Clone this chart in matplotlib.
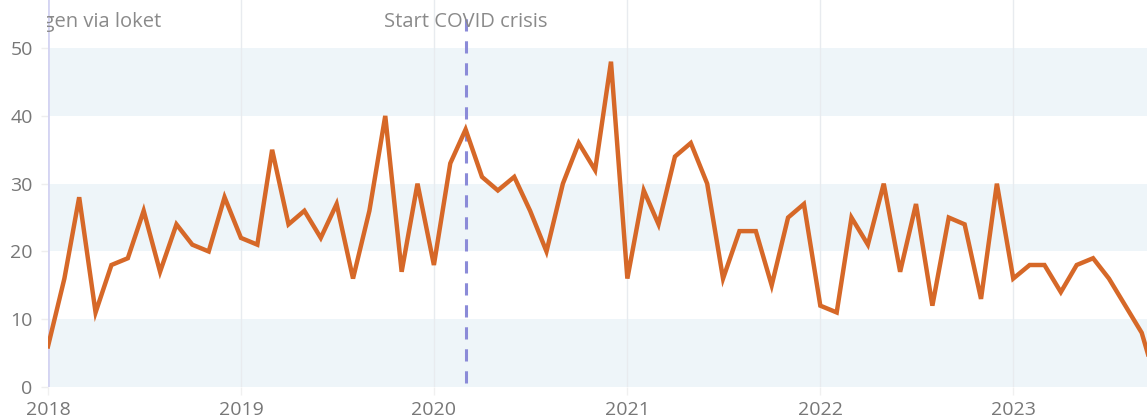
import numpy as np
import pandas as pd
import matplotlib
matplotlib.use("Agg")
import matplotlib.pyplot as plt
from matplotlib.patches import Rectangle

plt.rcParams['font.family'] = ['Open Sans', 'DejaVu Sans']

# monthly counts, Jan 2018 - Oct 2023
months = pd.date_range("2018-01-01", "2023-10-01", freq="MS")
counts = [
    6, 16, 28, 11, 18, 19, 26, 17, 24, 21, 20, 28,   # 2018
    22, 21, 35, 24, 26, 22, 27, 16, 26, 40, 17, 30,  # 2019
    18, 33, 38, 31, 29, 31, 26, 20, 30, 36, 32, 48,  # 2020
    16, 29, 24, 34, 36, 30, 16, 23, 23, 15, 25, 27,  # 2021
    12, 11, 25, 21, 30, 17, 27, 12, 25, 24, 13, 30,  # 2022
    16, 18, 18, 14, 18, 19, 16, 12, 8, 0,            # 2023
]
years = [2018, 2019, 2020, 2021, 2022, 2023]
y_ticks = [0, 10, 20, 30, 40, 50]
bands = [(0, 10), (20, 30), (40, 50)]

covid_date = pd.Timestamp("2020-03-01")
covid_label = "Start COVID crisis"
loket_date = pd.Timestamp("2018-01-01")
loket_label = "Aanvragen via loket"

line_color = "#D66828"
band_color = "#EEF5F9"
text_gray = "#8a8a8a"

fig = plt.figure(figsize=(11.47, 4.18), dpi=100)
left = 48 / 1147
ax = fig.add_axes([left, 31 / 418, 1 - left, 1 - 31 / 418])

ax.set_xlim(pd.Timestamp("2018-01-01"), pd.Timestamp("2023-09-11"))
ax.set_ylim(0, 57.1)

# horizontal bands
for lo, hi in bands:
    ax.axhspan(lo, hi, color=band_color, zorder=0, lw=0)

# yearly gridlines
for yr in years[1:]:
    ax.axvline(pd.Timestamp(f"{yr}-01-01"), color="#e8ebef", lw=1, zorder=1)

# left marker line
ax.axvline(loket_date, color="#d4d4f2", lw=2, zorder=2)

# covid marker
ax.plot([covid_date, covid_date], [0.6, 54.8], color="#8b8bd8", lw=2.2,
        ls=(0, (4, 3.2)), zorder=2)

ax.plot(months, counts, color=line_color, lw=3.2, zorder=3,
        solid_joinstyle="miter")

ax.text(covid_date, 53.9, covid_label, ha="center", va="center",
        fontsize=14.5, color=text_gray, zorder=4)
# label of the left marker is cut off at the plot edge, as in the original
ax.text(pd.Timestamp("2018-08-04"), 53.9, loket_label, ha="right",
        va="center", fontsize=14.5, color=text_gray, zorder=4)
mask = Rectangle((0, 1 - 34 / 418), left - 1.5 / 1147, 34 / 418,
                 transform=fig.transFigure, facecolor="white",
                 edgecolor="none", zorder=10)
fig.add_artist(mask)

ax.set_yticks(y_ticks)
ax.set_xticks([pd.Timestamp(f"{yr}-01-01") for yr in years])
ax.set_xticklabels([str(yr) for yr in years])
ax.tick_params(axis="y", length=5, width=1, color="#eeeeee", pad=6,
               labelsize=14, labelcolor="#777777")
ax.tick_params(axis="x", length=6, width=1, color="#f0f0f0", pad=4,
               labelsize=14, labelcolor="#777777")
for s in ax.spines.values():
    s.set_visible(False)

fig.savefig("out.png", dpi=100)
